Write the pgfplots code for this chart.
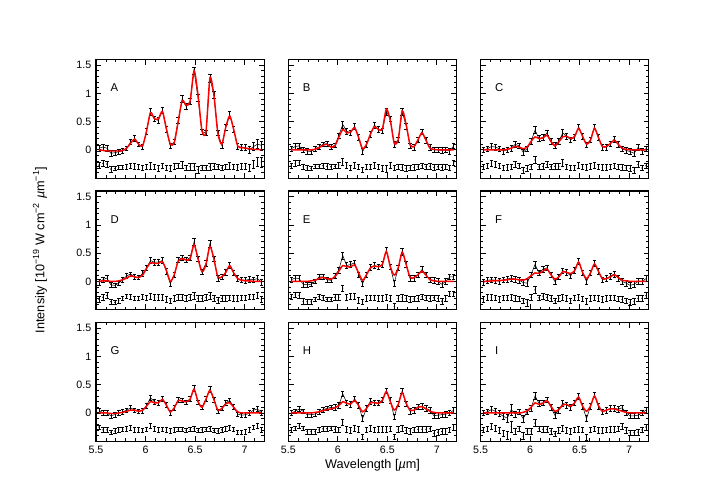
\documentclass[border=0pt]{standalone}
\usepackage{pgfplots}
\usepackage{pgfplotstable}
\usepackage{fontspec}
\setmainfont{Liberation Sans}
\pgfplotsset{compat=1.18}

\pgfplotstableread{
y e m
0.03 0.05 0.00
0.05 0.05 -0.01
0.03 0.05 -0.02
-0.06 0.05 -0.02
-0.05 0.04 -0.02
-0.03 0.04 -0.02
-0.02 0.04 -0.01
0.03 0.04 0.03
0.14 0.04 0.12
0.20 0.05 0.19
0.10 0.04 0.10
0.05 0.04 0.07
0.33 0.05 0.33
0.68 0.06 0.66
0.55 0.05 0.55
0.52 0.05 0.55
0.70 0.05 0.68
0.36 0.05 0.38
0.07 0.05 0.10
0.14 0.05 0.13
0.52 0.05 0.50
0.90 0.06 0.87
0.77 0.05 0.79
0.86 0.06 0.86
1.40 0.07 1.40
0.92 0.06 0.97
0.32 0.05 0.34
0.30 0.05 0.32
1.27 0.07 1.27
0.98 0.06 0.97
0.30 0.05 0.30
0.08 0.05 0.10
0.40 0.05 0.40
0.62 0.06 0.60
0.36 0.05 0.36
0.06 0.05 0.07
0.05 0.05 0.04
0.04 0.05 0.03
0.00 0.06 0.02
0.06 0.07 0.01
0.10 0.08 0.01
0.08 0.08 0.00
}\tA
\pgfplotstableread{
y e m
0.02 0.05 0.00
0.06 0.05 0.00
0.07 0.05 0.00
0.00 0.05 0.00
-0.02 0.05 0.00
-0.03 0.04 0.00
0.02 0.04 0.01
0.05 0.04 0.04
0.10 0.04 0.08
0.11 0.05 0.10
0.05 0.04 0.05
0.08 0.04 0.07
0.25 0.05 0.22
0.45 0.06 0.36
0.33 0.05 0.30
0.30 0.05 0.32
0.42 0.05 0.39
0.22 0.05 0.22
-0.03 0.05 0.02
0.10 0.05 0.10
0.28 0.05 0.28
0.44 0.05 0.41
0.36 0.05 0.36
0.34 0.05 0.37
0.68 0.06 0.72
0.55 0.05 0.52
0.10 0.05 0.12
0.18 0.05 0.18
0.68 0.06 0.69
0.42 0.05 0.45
0.07 0.05 0.09
0.05 0.05 0.06
0.18 0.05 0.18
0.32 0.05 0.30
0.17 0.05 0.17
0.04 0.05 0.03
0.00 0.05 0.01
0.00 0.05 0.00
-0.01 0.05 0.00
0.00 0.05 0.00
-0.02 0.05 0.00
0.07 0.05 0.00
}\tB
\pgfplotstableread{
y e m
0.00 0.05 0.00
0.02 0.05 0.00
0.06 0.05 0.00
0.05 0.05 0.00
0.02 0.05 0.00
-0.02 0.05 0.00
0.00 0.05 0.01
0.03 0.05 0.03
0.10 0.05 0.06
0.07 0.05 0.05
-0.04 0.05 0.02
0.02 0.05 0.05
0.15 0.05 0.15
0.35 0.06 0.23
0.20 0.05 0.20
0.22 0.05 0.21
0.30 0.05 0.26
0.15 0.05 0.15
0.08 0.05 0.07
0.15 0.05 0.14
0.30 0.06 0.23
0.24 0.05 0.24
0.18 0.05 0.20
0.22 0.05 0.24
0.41 0.05 0.38
0.24 0.05 0.24
0.09 0.05 0.10
0.18 0.05 0.17
0.41 0.05 0.38
0.22 0.05 0.22
0.05 0.05 0.06
0.05 0.05 0.06
0.11 0.05 0.11
0.19 0.05 0.17
0.10 0.05 0.10
0.02 0.05 0.03
-0.01 0.05 0.01
-0.03 0.05 0.00
-0.06 0.05 0.00
0.04 0.05 0.00
-0.02 0.05 0.00
0.02 0.05 0.00
}\tC
\pgfplotstableread{
y e m
-0.02 0.05 0.00
0.03 0.05 0.01
0.06 0.05 0.01
-0.06 0.05 0.00
-0.07 0.04 0.00
-0.03 0.04 0.01
0.03 0.04 0.03
0.10 0.04 0.06
0.13 0.04 0.10
0.08 0.04 0.08
0.07 0.04 0.07
0.14 0.05 0.11
0.24 0.05 0.23
0.37 0.05 0.33
0.34 0.05 0.32
0.34 0.05 0.32
0.37 0.05 0.35
0.18 0.05 0.20
-0.04 0.05 0.00
0.12 0.05 0.12
0.38 0.05 0.36
0.42 0.05 0.40
0.38 0.05 0.38
0.42 0.05 0.40
0.70 0.06 0.65
0.40 0.05 0.40
0.17 0.05 0.17
0.32 0.05 0.30
0.67 0.06 0.62
0.40 0.05 0.40
0.05 0.05 0.08
0.08 0.05 0.08
0.16 0.05 0.16
0.29 0.05 0.28
0.15 0.05 0.15
0.05 0.05 0.05
0.03 0.05 0.02
0.02 0.05 0.01
0.04 0.05 0.01
0.03 0.05 0.00
0.05 0.05 0.00
-0.02 0.05 0.00
}\tD
\pgfplotstableread{
y e m
0.03 0.05 0.00
0.06 0.05 0.00
0.05 0.05 0.00
-0.05 0.05 0.00
-0.06 0.04 0.00
-0.05 0.04 0.01
0.00 0.04 0.02
0.08 0.04 0.05
0.08 0.04 0.07
0.03 0.04 0.05
0.02 0.04 0.04
0.10 0.05 0.08
0.20 0.05 0.18
0.46 0.06 0.28
0.28 0.05 0.26
0.30 0.05 0.26
0.33 0.05 0.29
0.12 0.05 0.15
-0.04 0.05 0.02
0.12 0.05 0.12
0.25 0.05 0.24
0.28 0.05 0.27
0.26 0.05 0.26
0.30 0.05 0.30
0.55 0.06 0.53
0.26 0.05 0.26
-0.03 0.05 0.11
0.24 0.05 0.24
0.53 0.06 0.52
0.30 0.05 0.30
0.05 0.05 0.07
0.06 0.05 0.07
0.12 0.05 0.12
0.21 0.05 0.18
0.12 0.05 0.11
0.03 0.05 0.03
0.02 0.05 0.01
0.00 0.05 0.00
-0.05 0.05 0.00
0.00 0.05 0.00
0.08 0.05 0.00
0.08 0.05 0.00
}\tE
\pgfplotstableread{
y e m
-0.02 0.05 0.00
0.02 0.05 0.00
0.03 0.05 0.01
0.02 0.05 0.01
0.00 0.05 0.02
0.03 0.05 0.02
0.04 0.05 0.03
0.06 0.05 0.04
0.04 0.05 0.04
0.02 0.05 0.03
-0.02 0.05 0.02
-0.03 0.06 0.05
0.12 0.05 0.10
0.30 0.06 0.15
0.15 0.05 0.14
0.22 0.05 0.18
0.24 0.05 0.22
0.12 0.05 0.12
0.00 0.05 0.04
0.08 0.05 0.08
0.19 0.05 0.17
0.16 0.05 0.16
0.10 0.05 0.14
0.20 0.05 0.19
0.36 0.05 0.34
0.15 0.05 0.16
0.00 0.05 0.05
0.15 0.05 0.15
0.32 0.05 0.31
0.18 0.05 0.18
0.03 0.05 0.05
0.05 0.05 0.05
0.09 0.05 0.08
0.13 0.05 0.12
0.06 0.05 0.07
0.00 0.05 0.02
-0.03 0.05 0.01
-0.07 0.05 0.00
-0.05 0.05 0.00
0.00 0.05 0.00
0.00 0.05 0.00
0.05 0.05 0.00
}\tF
\pgfplotstableread{
y e m
0.05 0.04 0.00
0.00 0.04 0.00
0.00 0.04 0.00
-0.05 0.04 -0.01
-0.03 0.04 -0.01
0.00 0.04 0.00
0.02 0.04 0.01
0.05 0.04 0.03
0.09 0.04 0.05
0.05 0.04 0.05
0.03 0.04 0.03
0.04 0.04 0.05
0.13 0.04 0.12
0.27 0.05 0.20
0.20 0.04 0.18
0.18 0.04 0.18
0.25 0.04 0.24
0.14 0.04 0.14
0.00 0.04 0.02
0.09 0.04 0.09
0.23 0.04 0.22
0.22 0.04 0.21
0.19 0.04 0.20
0.25 0.04 0.24
0.44 0.05 0.42
0.19 0.04 0.20
0.10 0.04 0.10
0.25 0.04 0.24
0.42 0.05 0.40
0.23 0.04 0.24
0.03 0.04 0.05
0.08 0.04 0.08
0.18 0.04 0.16
0.22 0.04 0.18
0.11 0.04 0.10
-0.02 0.04 0.02
-0.04 0.04 0.00
-0.03 0.04 0.00
0.00 0.04 0.00
0.05 0.04 0.00
0.07 0.04 0.00
0.00 0.05 0.00
}\tG
\pgfplotstableread{
y e m
0.00 0.04 0.00
0.03 0.04 0.00
0.07 0.04 0.00
0.03 0.04 0.00
-0.03 0.04 0.00
-0.03 0.04 0.00
-0.02 0.04 0.01
0.02 0.04 0.02
0.06 0.04 0.04
0.08 0.04 0.06
0.10 0.04 0.07
0.10 0.05 0.09
0.13 0.05 0.13
0.34 0.05 0.20
0.18 0.05 0.17
0.15 0.05 0.16
0.25 0.05 0.22
0.14 0.05 0.13
-0.10 0.05 0.02
0.08 0.05 0.08
0.21 0.05 0.18
0.18 0.05 0.18
0.18 0.05 0.17
0.23 0.05 0.22
0.39 0.05 0.38
0.22 0.05 0.20
-0.07 0.05 0.05
0.16 0.05 0.15
0.39 0.05 0.36
0.16 0.05 0.17
0.03 0.05 0.05
0.05 0.05 0.05
0.11 0.05 0.10
0.12 0.05 0.11
0.08 0.05 0.07
0.05 0.05 0.03
-0.05 0.05 0.01
-0.04 0.05 0.00
-0.03 0.05 0.00
-0.02 0.05 0.00
0.00 0.05 0.00
0.05 0.05 0.00
}\tH
\pgfplotstableread{
y e m
0.00 0.05 0.00
0.02 0.05 0.00
0.06 0.05 0.00
0.03 0.05 0.00
-0.01 0.05 0.00
-0.06 0.06 0.00
-0.09 0.07 0.00
0.06 0.10 0.00
-0.02 0.05 0.00
0.02 0.05 0.00
-0.10 0.06 0.01
0.02 0.05 0.04
0.08 0.05 0.10
0.30 0.06 0.18
0.17 0.05 0.15
0.18 0.05 0.17
0.23 0.05 0.22
0.10 0.05 0.12
-0.04 0.05 0.03
0.05 0.05 0.06
0.17 0.05 0.14
0.14 0.05 0.15
0.10 0.05 0.12
0.18 0.05 0.18
0.29 0.05 0.28
0.12 0.05 0.12
-0.10 0.05 0.03
0.12 0.05 0.12
0.32 0.05 0.30
0.12 0.05 0.13
0.02 0.05 0.03
0.05 0.05 0.05
0.08 0.05 0.07
0.08 0.05 0.07
0.07 0.05 0.05
0.09 0.05 0.03
0.00 0.05 0.01
-0.05 0.05 0.00
-0.05 0.05 0.00
-0.04 0.05 0.00
0.00 0.05 0.00
0.05 0.05 0.00
}\tI

\pgfplotsset{
  panel/.style={
    scale only axis, width=126.3pt, height=89pt, anchor=north west,
    xmin=5.5, xmax=7.2, ymin=-0.5, ymax=1.6,
    xtick={5.5,6,6.5,7}, ytick={0,0.5,1,1.5},
    minor xtick={5.6,5.7,5.8,5.9,6.1,6.2,6.3,6.4,6.6,6.7,6.8,6.9,7.1},
    minor ytick={-0.4,-0.3,-0.2,-0.1,0.1,0.2,0.3,0.4,0.6,0.7,0.8,0.9,1.1,1.2,1.3,1.4,1.6},
    tick align=inside, xtick pos=both, ytick pos=both,
    major tick length=4pt, minor tick length=2.2pt,
    every tick/.style={black, line width=0.6pt},
    axis line style={line width=0.8pt},
    tick label style={font=\fontsize{8}{9}\selectfont},
    /pgf/number format/assume math mode=true,
    clip=true,
  },
  nox/.style={xticklabel={\mbox{}}},
  noy/.style={yticklabel={\mbox{}}},
}
\newcommand{\panel}[2]{%
  \addplot[black, line width=0.4pt, mark=none,
    error bars/.cd, y dir=both, y explicit,
    error bar style={line width=0.45pt},
    error mark=|, error mark options={mark size=1.3pt, line width=0.45pt}]
    table[x expr=5.53+0.04*\coordindex, y=y, y error=e] {#1};
  \addplot[red, line width=1.1pt, mark=none, smooth, tension=0.45]
    table[x expr=5.53+0.04*\coordindex, y=m] {#1};
  \addplot[black, only marks, mark=*, mark size=0.25pt,
    error bars/.cd, y dir=both, y explicit,
    error bar style={line width=0.45pt},
    error mark=|, error mark options={mark size=1.3pt, line width=0.45pt}]
    table[x expr=5.53+0.04*\coordindex, y expr=\thisrow{y}-\thisrow{m}-0.3, y error=e] {#1};
  \node[anchor=west, font=\fontsize{8.5}{9}\selectfont] at (axis cs:5.6,1.1) {#2};
}

\begin{document}
\begin{tikzpicture}
\path (0pt,0pt) rectangle (537.75pt,-376.5pt);
% row 1
\begin{axis}[panel, nox, at={(72pt,-44.6pt)}]
\panel{\tA}{A}
\end{axis}
\begin{axis}[panel, nox, noy, at={(216.2pt,-44.6pt)}]
\panel{\tB}{B}
\end{axis}
\begin{axis}[panel, nox, noy, at={(360.4pt,-44.6pt)}]
\panel{\tC}{C}
\end{axis}
% row 2
\begin{axis}[panel, nox, at={(72pt,-143.25pt)}]
\panel{\tD}{D}
\end{axis}
\begin{axis}[panel, nox, noy, at={(216.2pt,-143.25pt)}]
\panel{\tE}{E}
\end{axis}
\begin{axis}[panel, nox, noy, at={(360.4pt,-143.25pt)}]
\panel{\tF}{F}
\end{axis}
% row 3
\begin{axis}[panel, at={(72pt,-241.9pt)}]
\panel{\tG}{G}
\end{axis}
\begin{axis}[panel, noy, at={(216.2pt,-241.9pt)}]
\panel{\tH}{H}
\end{axis}
\begin{axis}[panel, noy, at={(360.4pt,-241.9pt)}]
\panel{\tI}{I}
\end{axis}
\node[rotate=90, font=\fontsize{9.5}{11}\selectfont] at (30pt,-187.5pt)
  {Intensity [10\textsuperscript{−19} W cm\textsuperscript{−2} \textit{µ}m\textsuperscript{−1}]};
\node[font=\fontsize{9.5}{11}\selectfont] at (279.4pt,-348.9pt) {Wavelength [\textit{µ}m]};
\end{tikzpicture}
\end{document}
